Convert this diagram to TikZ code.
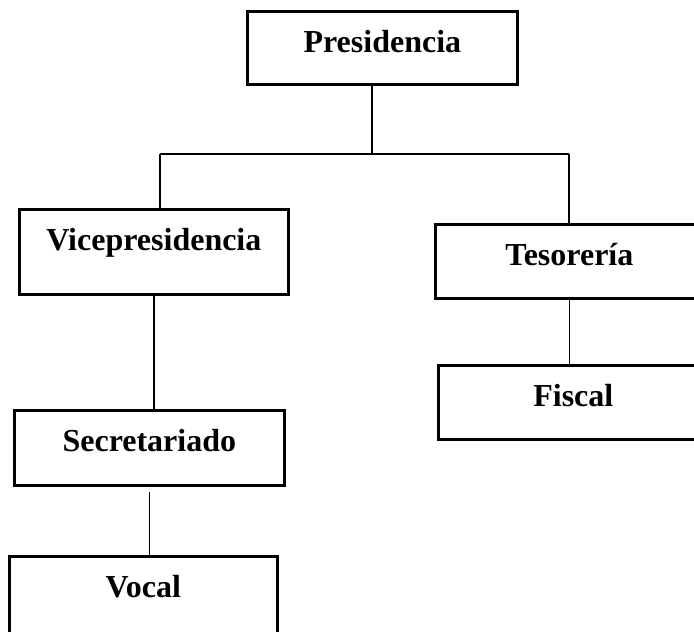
\documentclass[tikz,border=0pt]{standalone}
\usepackage{fontspec}
\setmainfont{Liberation Serif}

\begin{document}
\begin{tikzpicture}[
        x=0.75pt, y=-0.75pt,
        % Define styles for the boxes and links
        orgbox/.style={rectangle, draw, line width=2pt, inner xsep=0pt, inner ysep=0pt, anchor=north west,
            text height=30.75pt, text depth=25pt, font=\fontsize{24}{28}\selectfont\bfseries},
        link/.style={line width=1.2pt}
    ]
    \useasboundingbox (0,0) rectangle (694,632);

    % Define nodes
    \node[orgbox, minimum width=202.5pt, text depth=24pt] (presidencia) at (246,10) {Presidencia};
    \node[orgbox, minimum width=201.75pt, text depth=33pt] (vice) at (18,208) {Vicepresidencia};
    \node[orgbox, minimum width=201pt, text depth=24.75pt] (tesoreria) at (434,223) {Tesorería};
    \node[orgbox, minimum width=202.5pt, text depth=24.75pt] (fiscal) at (437,364) {Fiscal};
    \node[orgbox, minimum width=202.5pt, text depth=25.5pt] (secretariado) at (13,409) {Secretariado};
    \node[orgbox, minimum width=201pt, text depth=45pt] (vocal) at (8,555) {Vocal};

    % Branch points
    \coordinate (split) at (372,154);
    \coordinate (leftend) at (160,154);
    \coordinate (rightend) at (569,154);

    % Draw links
    \draw[link] (presidencia.south -| split) -- (split);
    \draw[link] (leftend) -- (rightend);
    \draw[link] (leftend) -- (leftend |- vice.north);
    \draw[link] (rightend) -- (rightend |- tesoreria.north);
    \draw[link] (vice.south) -- (vice.south |- secretariado.north);
    \draw[link] (tesoreria.south) -- (tesoreria.south |- fiscal.north);
    \draw[link, shorten <=4pt] (secretariado.south) -- (secretariado.south |- vocal.north);
\end{tikzpicture}
\end{document}
